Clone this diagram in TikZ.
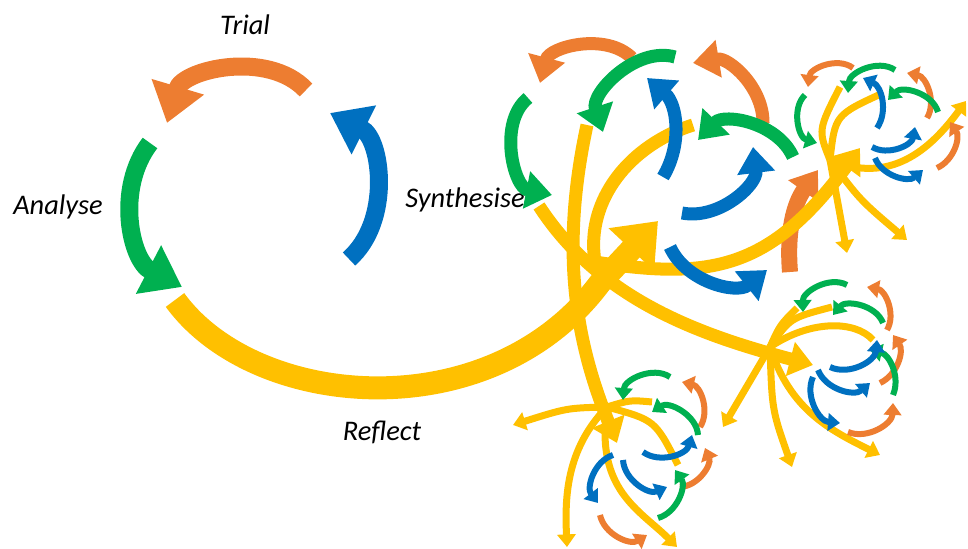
\documentclass[tikz,border=0pt]{standalone}
\usepackage{fontspec}
\setmainfont{Carlito}
\usetikzlibrary{arrows.meta}
\definecolor{trialcol}{HTML}{ED7D31}
\definecolor{analysecol}{HTML}{00B050}
\definecolor{synthcol}{HTML}{0070C0}
\definecolor{reflectcol}{HTML}{FFC000}
\tikzset{
  phase/.style={line width=9pt,-{Triangle[length=0pt 2.1,width=0pt 2.9]}},
  subphase/.style={line width=6.5pt,-{Triangle[length=0pt 2,width=0pt 2.8]}},
  twig/.style={line width=3pt,-{Triangle[length=0pt 2,width=0pt 2.9]}},
  reflectflow/.style={draw=reflectcol,line width=11.5pt},
  branch/.style={draw=reflectcol,line width=6.5pt},
  sprig/.style={draw=reflectcol,line width=3.5pt},
  pointed/.style={-{Triangle[length=0pt 1.8,width=0pt 2.6]}},
  lbl/.style={font=\itshape\fontsize{14.2}{17}\selectfont}
}

\begin{document}
\begin{tikzpicture}[x=0.5pt,y=-0.5pt]
\useasboundingbox (0,0) rectangle (968,549);

% the first cycle
\draw[phase,trialcol] (306,90) to[bend right=60] (167,123);
\draw[phase,analysecol] (150,143) to[bend right=50] (182,287);
\draw[phase,synthcol] (349,259) to[bend right=56] (330,113);
\node[lbl] (trial) at (245,25) {Trial};
\node[lbl] (analyse) at (58,207) {Analyse};
\node[lbl] (synth) at (465,200) {Synthesise};
\node[lbl] (reflect) at (382,432) {Reflect};

\coordinate (hub) at (595,262);
\coordinate (trhub) at (830,160);
\coordinate (rhub) at (770,347);
\coordinate (bhub) at (607,407);

\draw[line width=8pt,trialcol,-{Triangle[length=0pt 1.6,width=0pt 2.2]}]
  (790,272) to[bend left=20] (818,170);

% reflect arrow and the branches out of each hub
\draw[reflectflow,-{Triangle[length=0pt 1.7,width=0pt 2.6]}]
  (175,300) .. controls (255,410) and (490,430) .. (600,283) -- (658,221);
\draw[branch,pointed] (539,206) .. controls (600,300) and (700,335) .. (813,365);
\draw[branch,pointed] (587,125) .. controls (560,250) and (575,340) .. (617,443);
\draw[branch] (693,125) .. controls (630,145) and (585,200) .. (hub);
\draw[branch,pointed] (hub) .. controls (710,280) and (770,270) .. (860,148);

\draw[sprig] (trhub) .. controls (818,130) .. (840,87);
\draw[sprig] (trhub) .. controls (835,115) .. (883,93);
\draw[sprig,pointed] (trhub) .. controls (890,185) and (930,150) .. (966,101);
\draw[sprig,pointed] (trhub) -- (847,253);
\draw[sprig,pointed] (trhub) .. controls (860,200) .. (907,240);

\draw[sprig] (rhub) .. controls (780,325) .. (797,308);
\draw[sprig] (rhub) .. controls (790,318) .. (832,307);
\draw[sprig] (rhub) .. controls (810,320) and (855,320) .. (873,340);
\draw[sprig,pointed] (rhub) -- (723,427);
\draw[sprig,pointed] (rhub) .. controls (772,410) .. (792,467);
\draw[sprig,pointed] (rhub) .. controls (790,410) and (830,430) .. (880,455);

\draw[sprig,pointed] (bhub) .. controls (567,408) .. (513,425);
\draw[sprig] (bhub) .. controls (630,400) .. (652,402);
\draw[sprig] (bhub) .. controls (655,420) .. (678,465);
\draw[sprig,pointed] (bhub) .. controls (565,450) and (565,500) .. (567,547);
\draw[sprig,pointed] (bhub) .. controls (595,490) and (640,510) .. (677,547);

% cycles around the hubs
\foreach \xa/\ya/\xb/\yb/\col/\bnd in {
  632/58/540/83/trialcol/60, 528/98/552/195/analysecol/65,
  675/57/603/132/analysecol/62, 663/177/647/78/synthcol/40,
  763/123/693/63/trialcol/50, 793/157/698/140/analysecol/56,
  682/213/753/147/synthcol/54, 670/247/767/270/synthcol/52}
  \draw[subphase,\col] (\xa,\ya) to[bend right=\bnd] (\xb,\yb);

\foreach \xa/\ya/\xb/\yb/\col/\bnd in {
  853/68/808/87/trialcol/60, 805/95/817/143/analysecol/60,
  895/70/848/93/analysecol/60, 877/128/863/78/synthcol/50,
  927/118/907/73/trialcol/55, 938/112/888/100/analysecol/60,
  872/147/915/127/synthcol/55, 875/158/923/170/synthcol/55,
  937/168/950/122/trialcol/50,
  847/285/803/312/analysecol/60, 887/330/867/287/trialcol/55,
  883/323/833/315/analysecol/60, 880/383/893/335/trialcol/50,
  893/395/870/350/analysecol/50, 830/367/877/340/synthcol/55,
  818/370/870/383/synthcol/55, 813/377/840/423/synthcol/55,
  848/432/893/403/trialcol/55,
  670/377/623/400/analysecol/60, 700/427/682/382/trialcol/55,
  698/435/652/412/analysecol/60, 643/452/692/435/synthcol/55,
  680/487/705/448/trialcol/55, 658/518/675/470/analysecol/55,
  623/460/667/487/synthcol/55, 613/455/598/503/synthcol/55,
  600/515/647/535/trialcol/55}
  \draw[twig,\col] (\xa,\ya) to[bend right=\bnd] (\xb,\yb);
\end{tikzpicture}
\end{document}
